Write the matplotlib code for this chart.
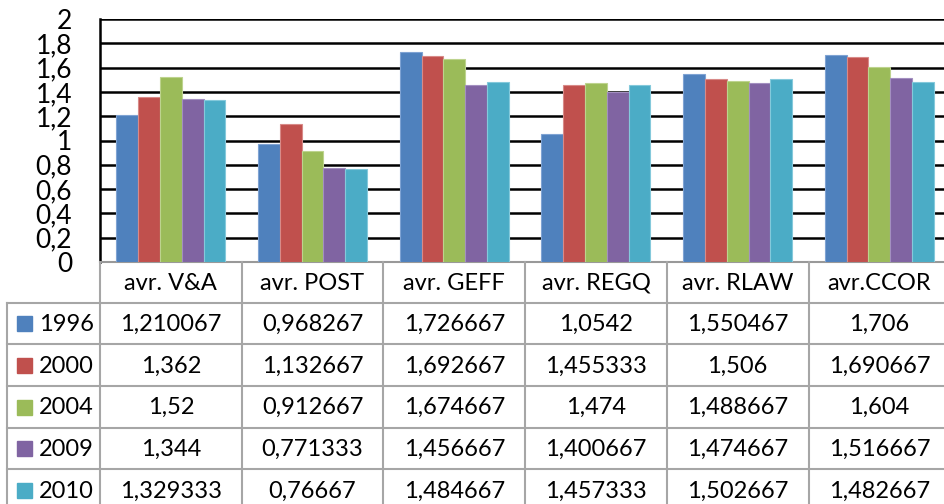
import matplotlib.pyplot as plt
import numpy as np
from matplotlib.patches import Rectangle

categories = ['avr. V&A', 'avr. POST', 'avr. GEFF', 'avr. REGQ', 'avr. RLAW', 'avr.CCOR']
years = ['1996', '2000', '2004', '2009', '2010']
v1996 = [1.210067, 0.968267, 1.726667, 1.0542, 1.550467, 1.706]
v2000 = [1.362, 1.132667, 1.692667, 1.455333, 1.506, 1.690667]
v2004 = [1.52, 0.912667, 1.674667, 1.474, 1.488667, 1.604]
v2009 = [1.344, 0.771333, 1.456667, 1.400667, 1.474667, 1.516667]
v2010 = [1.329333, 0.76667, 1.484667, 1.457333, 1.502667, 1.482667]
series = [v1996, v2000, v2004, v2009, v2010]
colors = ['#4F81BD', '#C0504D', '#9BBB59', '#8064A2', '#4BACC6']
edges = ['#7FA3D3', '#D88A88', '#BDD38E', '#A38FC0', '#84C9DB']

plt.rcParams['font.family'] = ['Lato', 'DejaVu Sans']
W, H = 944, 504
fig = plt.figure(figsize=(W / 100, H / 100), dpi=100)

# chart area in pixels
x0, top, bot = 100, 19, 262
colw = 141.7
aw = colw * 6
ax = fig.add_axes([x0 / W, (H - bot) / H, aw / W, (bot - top) / H])
bw = 1 / 6.5
x = np.arange(len(categories))
for i, vals in enumerate(series):
    ax.bar(x + 0.5 + (i - 2) * bw, vals, bw, color=colors[i], edgecolor=edges[i], linewidth=0.8, zorder=3)
ax.set_xlim(0, 6)
ax.set_ylim(0, 2)
ticks = np.arange(0, 2.01, 0.2)
ax.set_yticks(ticks)
ax.set_yticklabels([('%g' % round(t, 1)).replace('.', ',') for t in ticks], fontsize=19)
ax.tick_params(axis='y', length=0, pad=20)
ax.set_xticks([])
ax.grid(axis='y', color='black', linewidth=1.8, zorder=0)
for s in ['top', 'right']:
    ax.spines[s].set_visible(False)
ax.spines['left'].set_color('black')
ax.spines['left'].set_linewidth(1.8)
ax.spines['bottom'].set_color('#999999')
ax.spines['bottom'].set_linewidth(1.5)

# data table drawn in pixel coords
tb = fig.add_axes([0, 0, 1, 1])
tb.set_xlim(0, W)
tb.set_ylim(H, 0)
tb.axis('off')
gray = '#A6A6A6'
rowh = 41.7
hdr_bot = bot + 40.5
left = 7
fs = 17
for j in range(7):
    xx = x0 + j * colw
    tb.plot([xx, xx], [bot, H + 5], color=gray, lw=1.5)
tb.plot([left, left], [hdr_bot, H + 5], color=gray, lw=1.5)
for r in range(6):
    yy = hdr_bot + r * rowh
    tb.plot([left, W + 10], [yy, yy], color=gray, lw=1.5)
for j, c in enumerate(categories):
    tb.text(x0 + (j + 0.5) * colw, (bot + hdr_bot) / 2 + 1, c, ha='center', va='center', fontsize=fs)
for i, vals in enumerate(series):
    yc = hdr_bot + (i + 0.5) * rowh + 1
    tb.add_patch(Rectangle((17, yc - 8), 15, 15, color=colors[i]))
    tb.text(39, yc, years[i], ha='left', va='center', fontsize=fs)
    for j, v in enumerate(vals):
        tb.text(x0 + (j + 0.5) * colw, yc, str(v).replace('.', ','), ha='center', va='center', fontsize=fs)

fig.savefig('out.png', dpi=100)
